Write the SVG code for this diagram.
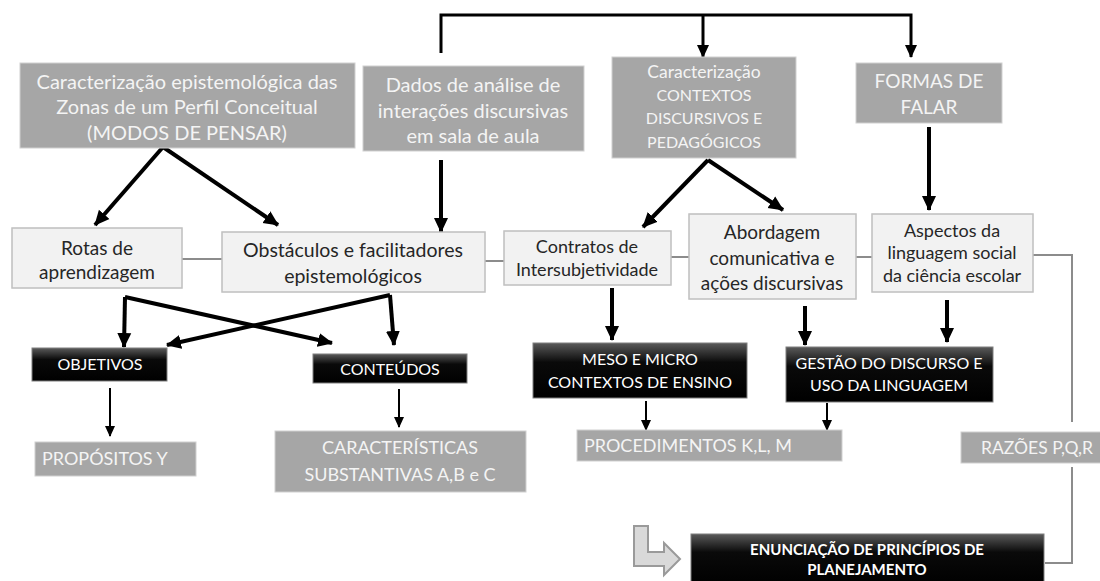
<svg xmlns="http://www.w3.org/2000/svg" width="1100" height="581" viewBox="0 0 1100 581">
<defs>
<linearGradient id="blk" x1="0" y1="0" x2="0" y2="1">
<stop offset="0" stop-color="#5a5a5a"/>
<stop offset="0.35" stop-color="#0a0a0a"/>
<stop offset="1" stop-color="#000"/>
</linearGradient>
<marker id="ah" markerUnits="userSpaceOnUse" markerWidth="16" markerHeight="16" refX="14" refY="8" orient="auto">
<path d="M0,1 L15,8 L0,15 Z" fill="#000"/>
</marker>
<marker id="am" markerUnits="userSpaceOnUse" markerWidth="14" markerHeight="14" refX="12" refY="7" orient="auto">
<path d="M0,1 L13,7 L0,13 Z" fill="#000"/>
</marker>
<marker id="as" markerUnits="userSpaceOnUse" markerWidth="12" markerHeight="12" refX="10" refY="6" orient="auto">
<path d="M0,1 L11,6 L0,11 Z" fill="#000"/>
</marker>
<style>
.g{fill:#a6a6a6;stroke:#d0d0d0;stroke-width:1}
.l{fill:#f2f2f2;stroke:#bfbfbf;stroke-width:1.5}
.b{fill:url(#blk);stroke:#7f7f7f;stroke-width:1}
text{font-family:Lato,"Open Sans","Liberation Sans",sans-serif}
.tw{fill:#f4f4f4;text-anchor:middle}
.twl{fill:#f4f4f4}
.td{fill:#262626;text-anchor:middle}
.tb{fill:#ffffff;text-anchor:middle}
.thick{fill:none;stroke:#000;stroke-width:4}
.med{fill:none;stroke:#000;stroke-width:3}
.thin{fill:none;stroke:#000;stroke-width:2}
.gl{fill:none;stroke:#8c8c8c;stroke-width:2}
</style>
</defs>

<g id="connectors">
<path class="med" d="M441,53 V15 H911 V57" marker-end="url(#am)"/>
<path class="med" d="M703,15 V57" marker-end="url(#am)"/>
<path class="thick" d="M441,160 V232" marker-end="url(#ah)"/>
<path class="thick" d="M163,147 L95,225" marker-end="url(#ah)"/>
<path class="thick" d="M163,147 L278,225" marker-end="url(#ah)"/>
<path class="thick" d="M708,160 L643,227" marker-end="url(#ah)"/>
<path class="thick" d="M708,160 L783,210" marker-end="url(#ah)"/>
<path class="thick" d="M929,127 V210" marker-end="url(#ah)"/>
<path class="thick" d="M125,297 L124,347" marker-end="url(#ah)"/>
<path class="thick" d="M125,297 L332,343" marker-end="url(#ah)"/>
<path class="thick" d="M390,295 L394,345" marker-end="url(#ah)"/>
<path class="thick" d="M390,295 L167,345" marker-end="url(#ah)"/>
<path class="thick" d="M612,288 V340" marker-end="url(#ah)"/>
<path class="thick" d="M805,306 V345" marker-end="url(#ah)"/>
<path class="thick" d="M947,300 V342" marker-end="url(#ah)"/>
<path class="thin" d="M110,388 V436" marker-end="url(#as)"/>
<path class="thin" d="M399,389 V427" marker-end="url(#as)"/>
<path class="thin" d="M646,401 V430" marker-end="url(#as)"/>
<path class="thin" d="M827,403 V430" marker-end="url(#as)"/>
<path class="gl" d="M182,259 H222"/>
<path class="gl" d="M485,261 H504"/>
<path class="gl" d="M671,257 H689"/>
<path class="gl" d="M856,257 H872"/>
<path class="gl" d="M1033,255 H1072 V422"/>
<path class="gl" d="M1072,467 V563 H1045"/>
<path d="M634,526 H648 V552 H664 V543 L680,559 L664,575 V566 H634 Z" fill="#d9d9d9" stroke="#9a9a9a" stroke-width="2"/>
</g>

<g id="n1"><rect class="g" x="20" y="63" width="335" height="85"/>
<text class="tw" font-size="20" x="187" y="89">Caracterização epistemológica das</text>
<text class="tw" font-size="20" x="187" y="114">Zonas de um Perfil Conceitual</text>
<text class="tw" font-size="20" x="187" y="140">(MODOS DE PENSAR)</text></g>

<g id="n2"><rect class="g" x="363" y="66" width="221" height="85"/>
<text class="tw" font-size="20" x="473" y="92">Dados de análise de</text>
<text class="tw" font-size="20" x="473" y="118">interações discursivas</text>
<text class="tw" font-size="20" x="473" y="143">em sala de aula</text></g>

<g id="n3"><rect class="g" x="612" y="57" width="184" height="101"/>
<text class="tw" font-size="17.5" x="704" y="78">Caracterização</text>
<text class="tw" font-size="16" x="704" y="101">CONTEXTOS</text>
<text class="tw" font-size="16" x="704" y="124">DISCURSIVOS E</text>
<text class="tw" font-size="16" x="704" y="148">PEDAGÓGICOS</text></g>

<g id="n4"><rect class="g" x="856" y="63" width="146" height="60"/>
<text class="tw" font-size="19" x="929" y="88">FORMAS DE</text>
<text class="tw" font-size="19" x="929" y="114">FALAR</text></g>

<g id="n5"><rect class="l" x="12" y="228" width="170" height="60"/>
<text class="td" font-size="19" x="97" y="255">Rotas de</text>
<text class="td" font-size="19" x="97" y="279">aprendizagem</text></g>

<g id="n6"><rect class="l" x="222" y="232" width="263" height="60"/>
<text class="td" font-size="19.5" x="353" y="257">Obstáculos e facilitadores</text>
<text class="td" font-size="19.5" x="353" y="283">epistemológicos</text></g>

<g id="n7"><rect class="l" x="504" y="231" width="167" height="54"/>
<text class="td" font-size="18" x="587" y="253">Contratos de</text>
<text class="td" font-size="18" x="587" y="276">Intersubjetividade</text></g>

<g id="n8"><rect class="l" x="689" y="214" width="167" height="85"/>
<text class="td" font-size="19" x="772" y="239">Abordagem</text>
<text class="td" font-size="19" x="772" y="265">comunicativa e</text>
<text class="td" font-size="19" x="772" y="290">ações discursivas</text></g>

<g id="n9"><rect class="l" x="872" y="214" width="161" height="78"/>
<text class="td" font-size="18" x="952" y="237">Aspectos da</text>
<text class="td" font-size="18" x="952" y="259">linguagem social</text>
<text class="td" font-size="18" x="952" y="282">da ciência escolar</text></g>

<g id="n10"><rect class="b" x="32" y="348" width="135" height="33"/>
<text class="tb" font-size="16" x="100" y="370">OBJETIVOS</text></g>

<g id="n11"><rect class="b" x="313" y="354" width="154" height="29"/>
<text class="tb" font-size="16" x="390" y="375">CONTEÚDOS</text></g>

<g id="n12"><rect class="b" x="533" y="343" width="214" height="55"/>
<text class="tb" font-size="16" x="640" y="365">MESO E MICRO</text>
<text class="tb" font-size="16" x="640" y="388">CONTEXTOS DE ENSINO</text></g>

<g id="n13"><rect class="b" x="786" y="347" width="207" height="55"/>
<text class="tb" font-size="16" x="889" y="369">GESTÃO DO DISCURSO E</text>
<text class="tb" font-size="16" x="889" y="391">USO DA LINGUAGEM</text></g>

<g id="n14"><rect class="g" x="35" y="442" width="161" height="34"/>
<text class="twl" font-size="18" x="42" y="465">PROPÓSITOS Y</text></g>

<g id="n15"><rect class="g" x="275" y="431" width="251" height="61"/>
<text class="tw" font-size="18" x="400" y="454">CARACTERÍSTICAS</text>
<text class="tw" font-size="18" x="400" y="481">SUBSTANTIVAS A,B e C</text></g>

<g id="n16"><rect class="g" x="577" y="430" width="265" height="31"/>
<text class="twl" font-size="18" x="584" y="452">PROCEDIMENTOS K,L, M</text></g>

<g id="n17"><rect class="g" x="961" y="432" width="141" height="31"/>
<text class="twl" font-size="17.5" x="981" y="454">RAZÕES P,Q,R</text></g>

<g id="n18"><rect class="b" x="691" y="534" width="353" height="52"/>
<text class="tb" font-size="15" font-weight="bold" x="867" y="555">ENUNCIAÇÃO DE PRINCÍPIOS DE</text>
<text class="tb" font-size="15" font-weight="bold" x="867" y="575">PLANEJAMENTO</text></g>
</svg>
